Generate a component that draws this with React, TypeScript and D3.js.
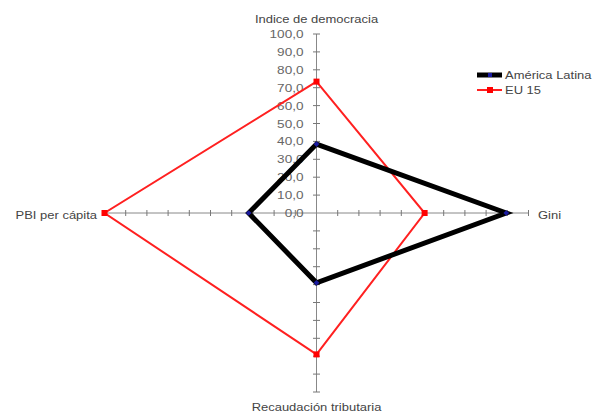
import React from "react";
import * as d3 from "d3";

const axesNames = ["Indice de democracia", "Gini", "Recaudación tributaria", "PBI per cápita"];
const seriesNames = ["América Latina", "EU 15"];
const americaLatina = [38.5, 89.5, 39, 32];
const eu15 = [73.4, 51, 79, 100];
const tickValues = [0, 10, 20, 30, 40, 50, 60, 70, 80, 90, 100];
const tickLabels = ["0,0", "10,0", "20,0", "30,0", "40,0", "50,0", "60,0", "70,0", "80,0", "90,0", "100,0"];

const W = 592;
const H = 413;
const cx = 316.5;
const cy = 213;
const SX = 1.18;
const font = "'Liberation Sans', Arial, sans-serif";

const rx = d3.scaleLinear().domain([0, 100]).range([0, 212]);
const ry = d3.scaleLinear().domain([0, 100]).range([0, 179]);

const dirs = [
  [0, -1],
  [1, 0],
  [0, 1],
  [-1, 0],
];

function pt(i: number, v: number): [number, number] {
  const [dx, dy] = dirs[i];
  return [cx + dx * rx(v), cy + dy * ry(v)];
}

const T = ({ x, y, anchor, children, fill = "#444", size = 11 }: any) => (
  <text
    transform={`translate(${x},${y}) scale(${SX},1)`}
    textAnchor={anchor}
    fontFamily={font}
    fontSize={size}
    fill={fill}
  >
    {children}
  </text>
);

export default function App() {
  const line = d3.line<[number, number]>().curve(d3.curveLinearClosed);
  const alPts = americaLatina.map((v, i) => pt(i, v));
  const euPts = eu15.map((v, i) => pt(i, v));
  return (
    <svg width={W} height={H} style={{ position: "absolute", left: 0, top: 0, background: "#fff" }}>
      {/* axes */}
      {dirs.map((d, i) => {
        const [x2, y2] = pt(i, 100);
        return <line key={"ax" + i} x1={cx} y1={cy} x2={x2} y2={y2} stroke="#888" strokeWidth={1} />;
      })}
      {dirs.map((d, i) =>
        tickValues.slice(1).map((v) => {
          const [x, y] = pt(i, v);
          const vertical = d[0] === 0;
          return vertical ? (
            <line key={`t${i}-${v}`} x1={x - 3.5} x2={x + 3.5} y1={y} y2={y} stroke="#777" strokeWidth={1} />
          ) : (
            <line key={`t${i}-${v}`} x1={x} x2={x} y1={y - 3} y2={y + 3} stroke="#777" strokeWidth={1} />
          );
        })
      )}
      {tickValues.map((v, k) => {
        const [, y] = pt(0, v);
        return (
          <T key={"tl" + v} x={cx - 13} y={y + 4} anchor="end" fill="#666" size={11.5}>
            {tickLabels[k]}
          </T>
        );
      })}
      {/* axis names */}
      <T x={cx} y={23} anchor="middle">{axesNames[0]}</T>
      <T x={538} y={219} anchor="start">{axesNames[1]}</T>
      <T x={cx} y={411} anchor="middle">{axesNames[2]}</T>
      <T x={97} y={219} anchor="end">{axesNames[3]}</T>
      {/* series */}
      <path d={line(euPts) || ""} fill="none" stroke="#ff2020" strokeWidth={2} />
      {euPts.map(([x, y], i) => (
        <rect key={"eu" + i} x={x - 3} y={y - 3} width={6} height={6} fill="#ff0000" />
      ))}
      <path d={line(alPts) || ""} fill="none" stroke="#000" strokeWidth={5} strokeLinejoin="miter" />
      {alPts.map(([x, y], i) => (
        <rect key={"al" + i} x={x - 2} y={y - 2} width={4} height={4} fill="#1a1aa0" transform={`rotate(45,${x},${y})`} />
      ))}
      {/* legend */}
      <line x1={477} x2={502} y1={75} y2={75} stroke="#000" strokeWidth={5} />
      <rect x={488} y={73} width={4} height={4} fill="#1a1aa0" />
      <T x={505} y={79} anchor="start">{seriesNames[0]}</T>
      <line x1={477} x2={502} y1={90} y2={90} stroke="#ff2020" strokeWidth={2} />
      <rect x={487} y={87} width={6} height={6} fill="#ff0000" />
      <T x={505} y={94} anchor="start">{seriesNames[1]}</T>
    </svg>
  );
}
